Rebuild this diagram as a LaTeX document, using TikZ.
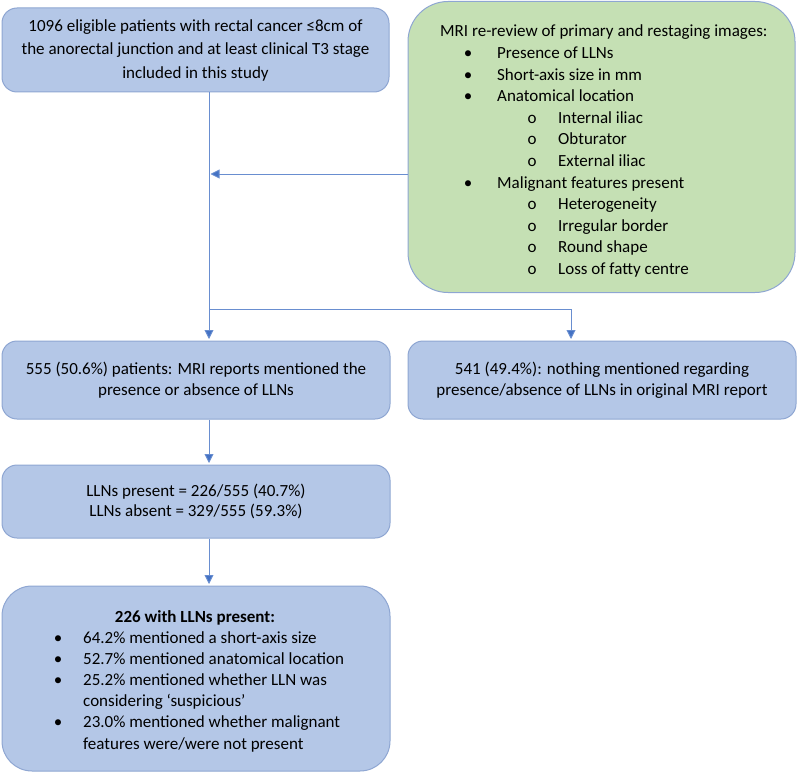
\documentclass[tikz,border=0pt]{standalone}
\usepackage{fontspec}
\setmainfont{Carlito}
\usetikzlibrary{arrows.meta}
\definecolor{boxblue}{HTML}{B4C7E7}
\definecolor{boxgreen}{HTML}{C5E0B4}
\definecolor{edgeblue}{HTML}{8EA6D2}
\definecolor{linkblue}{HTML}{4472C4}
\newcommand\lvA[1]{\hspace*{28pt}\makebox[0pt]{\textbullet}\hspace*{29pt}#1}
\newcommand\lvB[1]{\hspace*{92pt}\makebox[0pt]{o}\hspace*{26pt}#1}
\newcommand\lvC[1]{\hspace*{6pt}\makebox[0pt]{\textbullet}\hspace*{25pt}#1}
\newcommand\lvD[1]{\hspace*{31pt}#1}
\newcommand\toplines[1]{\begin{tabular}[t]{@{}l@{}}#1\end{tabular}}
\tikzset{
  flowbox/.style={draw=edgeblue, line width=1pt, fill=boxblue, rounded corners=15pt,
    align=center, inner sep=0pt, font=\fontsize{17}{21}\selectfont},
  greenbox/.style={flowbox, fill=boxgreen, rounded corners=40pt},
  listtext/.style={anchor=base west, inner sep=0pt, font=\fontsize{17}{21.6}\selectfont},
  link/.style={draw=linkblue!80!white, line width=0.9pt},
  arrowlink/.style={link, -{Triangle[length=9pt,width=9pt,fill=linkblue]}, shorten >=1.5pt}
}
\begin{document}
\begin{tikzpicture}[x=1pt,y=-1pt]
\useasboundingbox (0,0) rectangle (797,773);
\node[flowbox, minimum width=387pt, minimum height=84pt, font=\fontsize{17}{23.5}\selectfont] (start) at (195.5,50)
  {1096 eligible patients with rectal cancer ≤8cm of\\ the anorectal junction and at least clinical T3 stage\\ included in this study};
\node[greenbox, minimum width=387pt, minimum height=291pt] (review) at (601.5,147) {};
\node[listtext] (reviewtext) at (440,37) {\toplines{MRI re-review of primary and restaging images:\\
  \lvA{Presence of LLNs}\\
  \lvA{Short-axis size in mm}\\
  \lvA{Anatomical location}\\
  \lvB{Internal iliac}\\
  \lvB{Obturator}\\
  \lvB{External iliac}\\
  \lvA{Malignant features present}\\
  \lvB{Heterogeneity}\\
  \lvB{Irregular border}\\
  \lvB{Round shape}\\
  \lvB{Loss of fatty centre}}};
\node[flowbox, minimum width=388pt, minimum height=78pt] (mentioned) at (196,380)
  {555 (50.6\%) patients: MRI reports mentioned the\\ presence or absence of LLNs};
\node[flowbox, minimum width=388pt, minimum height=78pt] (notmentioned) at (602,380)
  {541 (49.4\%): nothing mentioned regarding\\ presence/absence of LLNs in original MRI report};
\node[flowbox, minimum width=388pt, minimum height=73pt, font=\fontsize{17}{20}\selectfont] (split) at (196,501.5)
  {LLNs present = 226/555 (40.7\%)\\ LLNs absent = 329/555 (59.3\%)};
\node[flowbox, minimum width=388pt, minimum height=185pt, rounded corners=30pt] (present) at (196,678.5) {};
\node[anchor=base, inner sep=0pt, font=\fontsize{17}{21}\selectfont\bfseries] (presenttitle) at (195,622) {226 with LLNs present:};
\node[listtext, font=\fontsize{17}{21.2}\selectfont] (presentlist) at (52,643) {\toplines{%
  \lvC{64.2\% mentioned a short-axis size}\\
  \lvC{52.7\% mentioned anatomical location}\\
  \lvC{25.2\% mentioned whether LLN was}\\
  \lvD{considering ‘suspicious’}\\
  \lvC{23.0\% mentioned whether malignant}\\
  \lvD{features were/were not present}}};
\coordinate (join) at (209,174);
\coordinate (fork) at (209,309);
\coordinate (forkright) at (571,309);
\draw[arrowlink] (join |- start.south) -- (join |- mentioned.north);
\draw[arrowlink] (review.west |- join) -- (join);
\draw[arrowlink] (fork) -- (forkright) -- (forkright |- notmentioned.north);
\draw[arrowlink] (join |- mentioned.south) -- (join |- split.north);
\draw[arrowlink] (join |- split.south) -- (join |- present.north);
\end{tikzpicture}
\end{document}
